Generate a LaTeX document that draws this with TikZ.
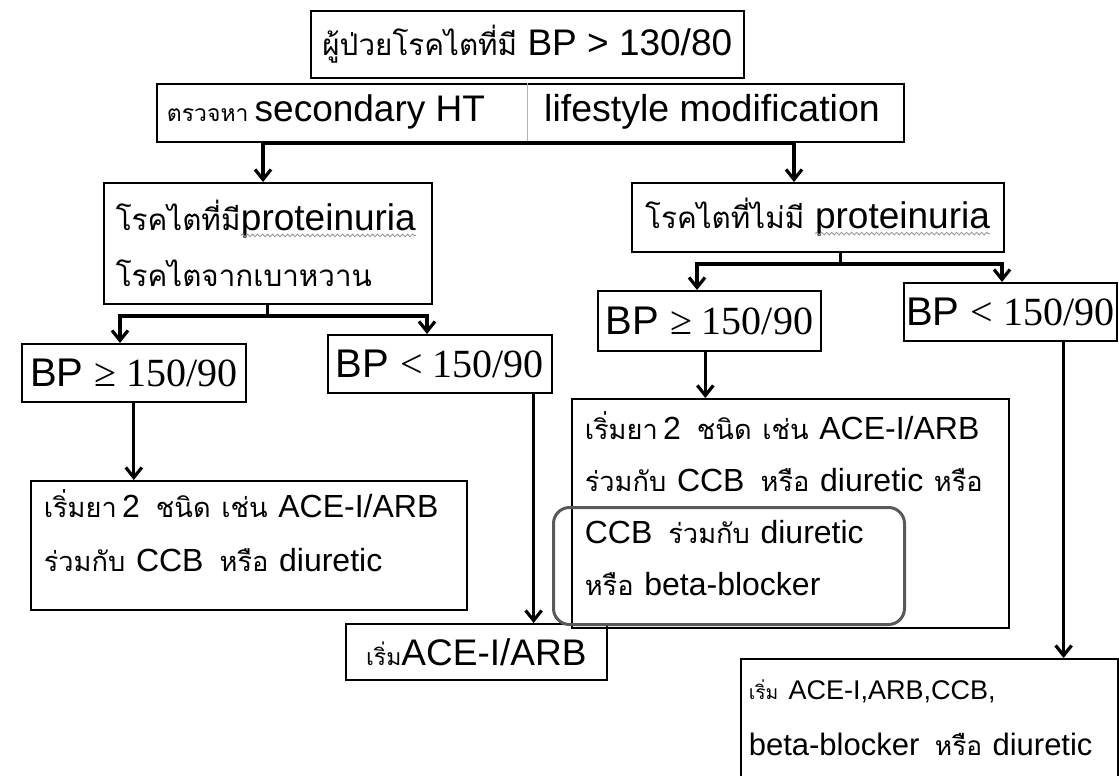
\documentclass[tikz,border=0pt]{standalone}
\usepackage{fontspec}
\setmainfont{Liberation Sans}
\newfontfamily\numserif{Liberation Serif}
\newfontfamily\thA[Script=Thai,Scale=0.8]{Loma}
\newfontfamily\thB[Script=Thai,Scale=0.85]{Loma}
\newfontfamily\thS[Script=Thai,Scale=0.62]{Loma}
\usetikzlibrary{arrows.meta,decorations.pathmorphing}

% wavy spell-check line under a word
\newcommand\spellwave[1]{\tikz[baseline=(sw.base)]{%
  \node[draw=none, inner sep=0pt, outer sep=0pt, minimum width=0pt, minimum height=0pt, text width=, text depth=, anchor=base] (sw) {#1};
  \draw[gray!80, line width=0.9pt, decorate, decoration={snake, amplitude=1.3pt, segment length=5pt}]
    ([yshift=-5pt]sw.base west) -- ([yshift=-5pt]sw.base east);}}

\begin{document}
\begin{tikzpicture}[x=1pt,y=-1pt,
  box/.style={draw, line width=1.6pt, inner sep=0pt, anchor=north west},
  plain/.style={inner sep=0pt},
  link/.style={line width=3.2pt},
  arr/.style={line width=3.2pt, -{Straight Barb[length=10pt,width=16pt]}},
  arrs/.style={line width=3.2pt, {Straight Barb[length=10pt,width=16pt]}-{Straight Barb[length=10pt,width=16pt]}},
  big/.style={box, inner xsep=13pt, align=left, font=\fontsize{32}{54}\selectfont}]
  \useasboundingbox (0,0) rectangle (1119,776);
  % top row
  \node[box, minimum width=433pt, minimum height=67pt, font=\fontsize{37}{44}\selectfont] (bp) at (310,10)
    {{\thA ผู้ป่วยโรคไตที่มี} BP > 130/80};
  \node[box, minimum width=747pt, minimum height=58pt] (check) at (156,83) {};
  \coordinate (div) at (527,0);
  \draw[gray!60, line width=1pt] (check.north -| div) -- (check.south -| div);
  \node[plain, font=\fontsize{37}{44}\selectfont] (sec) at (326,112) {{\thS ตรวจหา}\,secondary HT};
  \node[plain, font=\fontsize{37.5}{44}\selectfont] (life) at (712,112) {lifestyle modification};
  % proteinuria split
  \node[box, text width=304pt, inner xsep=12pt, minimum height=121pt, align=left, font=\fontsize{37}{56}\selectfont] (pro) at (103,182)
    {{\thA โรคไตที่มี}\spellwave{proteinuria}\\{\thA โรคไตจากเบาหวาน}};
  \node[box, minimum width=372pt, minimum height=69pt, font=\fontsize{37}{44}\selectfont] (noprot) at (631,182)
    {{\thA โรคไตที่ไม่มี} \spellwave{proteinuria}};
  % blood pressure boxes
  \node[box, minimum width=224pt, minimum height=58pt, font=\fontsize{40}{44}\selectfont] (bpl) at (21,343) {BP {\numserif ≥ 150/90}};
  \node[box, minimum width=224pt, minimum height=58pt, font=\fontsize{40}{44}\selectfont] (bpm) at (327,334) {BP {\numserif < 150/90}};
  \node[box, minimum width=223pt, minimum height=60pt, font=\fontsize{40}{44}\selectfont] (bpr) at (597,290) {BP {\numserif ≥ 150/90}};
  \node[box, minimum width=213pt, minimum height=58pt, font=\fontsize{40}{44}\selectfont] (bpfr) at (903,282) {BP {\numserif < 150/90}};
  % treatment boxes
  \node[big, text width=410pt, minimum height=129pt, text depth=83pt] (lb) at (30,480)
    {{\thB เริ่มยา}\,2 \,{\thB ชนิด เช่น} ACE-I/ARB\\{\thB ร่วมกับ} CCB \,{\thB หรือ} diuretic};
  \node[box, minimum width=261pt, minimum height=56pt, font=\fontsize{37}{44}\selectfont] (ace) at (345,623)
    {{\thS เริ่ม}ACE-I/ARB};
  \node[big, text width=411pt, minimum height=229pt, text depth=175pt, font=\fontsize{32}{52}\selectfont] (rb) at (571,398)
    {{\thB เริ่มยา}\,2 \,{\thB ชนิด เช่น} ACE-I/ARB\\{\thB ร่วมกับ} CCB \,{\thB หรือ} diuretic {\thB หรือ}\\CCB \,{\thB ร่วมกับ} diuretic\\{\thB หรือ} beta-blocker};
  \node[draw=black!65, line width=3pt, rounded corners=16pt, minimum width=351pt, minimum height=117pt, anchor=north west, inner sep=0pt] (hl) at (552,506) {};
  \node[big, text width=361pt, inner xsep=8pt, minimum height=118pt, font=\fontsize{31}{56}\selectfont] (fr) at (740,658)
    {{\thS เริ่ม} {\fontsize{27}{56}\selectfont ACE-I,ARB,CCB,}\\beta-blocker \,{\thB หรือ} diuretic};
  % connectors
  \coordinate (ja) at (263,143);
  \coordinate (jb) at (794,143);
  \draw[arrs] (ja |- pro.north) -- (ja) -- (jb) -- (jb |- noprot.north);
  \coordinate (jl) at (120,316);
  \coordinate (jm) at (427,316);
  \draw[link] (pro.south) -- (pro.south |- jl);
  \draw[arrs] (jl |- bpl.north) -- (jl) -- (jm) -- (jm |- bpm.north);
  \coordinate (jr) at (697,264);
  \coordinate (js) at (1002,264);
  \coordinate (n1) at ([xshift=23pt]noprot.south);
  \draw[link] (n1) -- (n1 |- jr);
  \draw[arrs] (jr |- bpr.north) -- (jr) -- (js) -- (js |- bpfr.north);
  \draw[arr] (bpl.south) -- (bpl.south |- lb.north);
  \coordinate (m1) at ([xshift=-19pt]bpm.south east);
  \draw[arr] (m1) -- (m1 |- ace.north);
  \coordinate (r1) at ([xshift=-4pt]bpr.south);
  \draw[arr] (r1) -- (r1 |- rb.north);
  \coordinate (f1) at ([xshift=-54pt]bpfr.south east);
  \draw[arr] (f1) -- (f1 |- fr.north);
\end{tikzpicture}
\end{document}
